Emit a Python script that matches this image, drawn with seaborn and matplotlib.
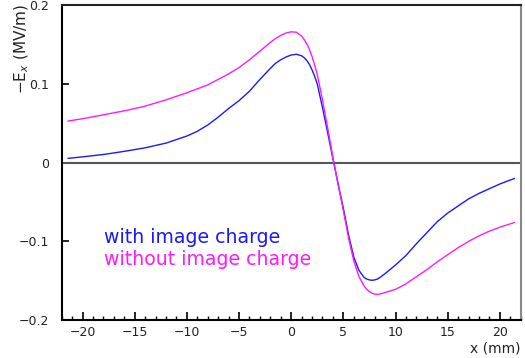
import numpy as np
import pandas as pd
import matplotlib
matplotlib.use("Agg")
import matplotlib.pyplot as plt
from matplotlib.ticker import MultipleLocator
import seaborn as sns

# ---- data ----
x_mm = [-21.4, -20, -18, -16, -14, -12, -10, -9, -8, -7, -6, -5, -4, -3, -2, -1.5, -1, -0.5,
        0, 0.5, 1, 1.25, 1.5, 1.75, 2, 2.25, 2.5, 3, 3.5, 4, 4.5, 5, 5.5, 6, 6.5, 7, 7.25,
        7.5, 7.75, 8, 8.25, 8.5, 9, 10, 11, 12, 13, 14, 15, 16, 17, 18, 19, 20, 21.4]

ex_with_image = [0.0056, 0.0075, 0.0105, 0.0145, 0.0190, 0.0250, 0.0340, 0.0400,
                 0.0480, 0.0580, 0.0690, 0.0790, 0.0910, 0.1060, 0.1200, 0.1265,
                 0.1310, 0.1345, 0.1370, 0.1380, 0.1360, 0.1335, 0.1300, 0.1250,
                 0.1180, 0.1100, 0.1000, 0.0700, 0.0380, 0.0050, -0.0270, -0.0580,
                 -0.0920, -0.1200, -0.1370, -0.1460, -0.1480, -0.1490, -0.1495,
                 -0.1490, -0.1480, -0.1460, -0.1410, -0.1300, -0.1180, -0.1030,
                 -0.0890, -0.0750, -0.0640, -0.0550, -0.0460, -0.0390, -0.0330,
                 -0.0270, -0.0200]

ex_without_image = [0.0530, 0.0560, 0.0610, 0.0660, 0.0720, 0.0800, 0.0890, 0.0940,
                    0.0990, 0.1060, 0.1130, 0.1210, 0.1310, 0.1420, 0.1530, 0.1580,
                    0.1620, 0.1650, 0.1665, 0.1660, 0.1610, 0.1565, 0.1510, 0.1440,
                    0.1350, 0.1240, 0.1120, 0.0800, 0.0440, 0.0070, -0.0280, -0.0610,
                    -0.0960, -0.1250, -0.1450, -0.1570, -0.1610, -0.1640, -0.1660,
                    -0.1670, -0.1673, -0.1670, -0.1650, -0.1610, -0.1540, -0.1450,
                    -0.1360, -0.1260, -0.1170, -0.1080, -0.1000, -0.0930, -0.0870,
                    -0.0820, -0.0760]

series_names = ["with image charge", "without image charge"]
series_colors = ["#1a1aff", "#ff1aff"]

x_ticks = [-20, -15, -10, -5, 0, 5, 10, 15, 20]
y_ticks = [-0.2, -0.1, 0, 0.1, 0.2]
y_tick_labels = ["\u22120.2", "\u22120.1", "0", "0.1", "0.2"]
x_tick_labels = ["\u221220", "\u221215", "\u221210", "\u22125", "0", "5", "10", "15", "20"]

df = pd.DataFrame({
    "x": x_mm * 2,
    "Ex": ex_with_image + ex_without_image,
    "series": [series_names[0]] * len(x_mm) + [series_names[1]] * len(x_mm),
})

sns.set_theme(style="white")
plt.rcParams["font.family"] = ["DejaVu Sans"]

W, H = 525, 358
fig = plt.figure(figsize=(W / 100, H / 100), dpi=100)
ax = fig.add_axes([61.7 / W, 1 - 320 / H, (520.7 - 61.7) / W, (320 - 5.5) / H])

ax.axhline(0, color="#555555", lw=1.5, zorder=1)

sns.lineplot(data=df, x="x", y="Ex", hue="series", palette=series_colors,
             hue_order=series_names, estimator=None, sort=False,
             linewidth=1.0, legend=False, ax=ax, zorder=3)

ax.set_xlim(-22, 22)
ax.set_ylim(-0.2, 0.2)
ax.set_xlabel("")
ax.set_ylabel("")

ax.set_xticks(x_ticks)
ax.set_xticklabels(x_tick_labels)
ax.xaxis.set_minor_locator(MultipleLocator(1))
ax.set_yticks(y_ticks)
ax.set_yticklabels(y_tick_labels)

ax.tick_params(axis="x", which="major", direction="in", length=5.5, width=1.2,
               color="black", labelsize=9, pad=4, bottom=True, top=False)
ax.tick_params(axis="x", which="minor", direction="in", length=3, width=1.0,
               color="black", bottom=True, top=False)
ax.tick_params(axis="y", which="major", direction="in", length=5, width=1.2,
               color="black", labelsize=9, pad=9, left=True, right=False)
for lab in ax.get_xticklabels() + ax.get_yticklabels():
    lab.set_color("#222222")

for side, col in [("left", "black"), ("bottom", "black"), ("top", "#222222"), ("right", "#888888")]:
    ax.spines[side].set_visible(True)
    ax.spines[side].set_color(col)
    ax.spines[side].set_linewidth(1.5)

# axis titles
fig.text(520 / W, 1 - 355 / H, "x (mm)", ha="right", va="bottom", fontsize=10, color="#222222")
fig.text(22 / W, 1 - 4 / H, r"$-$E$_x$ (MV/m)", ha="center", va="top", rotation=90,
         fontsize=11, color="#222222")

# legend texts
fig.text(104 / W, 1 - 242.7 / H, series_names[0], ha="left", va="baseline",
         fontsize=13.6, color=series_colors[0])
fig.text(104 / W, 1 - 265 / H, series_names[1], ha="left", va="baseline",
         fontsize=13.6, color=series_colors[1])

fig.savefig("out.png", dpi=100)
